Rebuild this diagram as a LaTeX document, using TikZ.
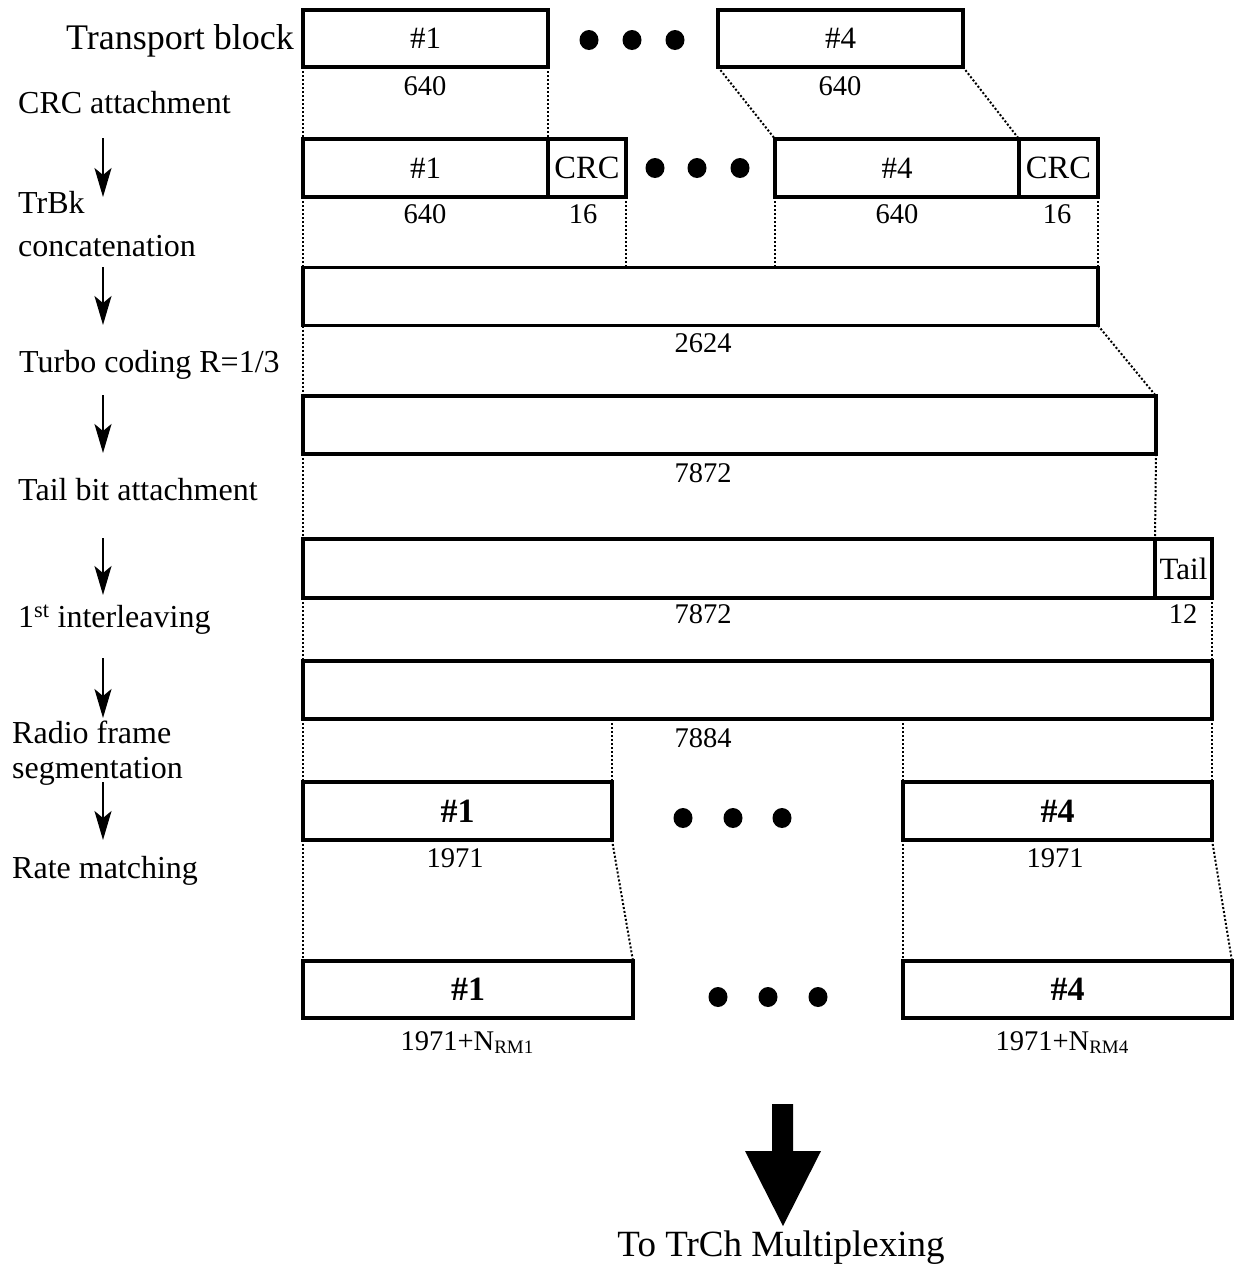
\documentclass[tikz,border=0pt]{standalone}
\usepackage{fontspec}
\setmainfont{Liberation Serif}
\usetikzlibrary{arrows.meta}
\newcommand\fLab{\fontsize{32}{36}\selectfont}
\newcommand\fTB{\fontsize{36}{40}\selectfont}
\newcommand\fNum{\fontsize{28.5}{30}\selectfont}
\newcommand\fBx{\fontsize{31}{34}\selectfont}
\newcommand\fCrc{\fontsize{32.5}{34}\selectfont}
\newcommand\fBld{\fontsize{34}{36}\selectfont\bfseries}
\newcommand\fBig{\fontsize{37}{40}\selectfont}
\newcommand\fSub{\fontsize{19}{20}\selectfont}
\begin{document}
\begin{tikzpicture}[x=1pt,y=-1pt,
  blk/.style={draw, line width=3.1pt, inner sep=0pt, outer sep=0pt, font=\fBx},
  lab/.style={inner sep=0pt, anchor=base west, font=\fLab},
  num/.style={inner sep=0pt, anchor=base, font=\fNum},
  conn/.style={line width=2pt, dash pattern=on 2pt off 2pt},
  step arrow/.style={line width=2.2pt, -{Stealth[length=29pt,width=17pt,inset=7pt]}},
  dotmark/.style={fill=black}
]
\useasboundingbox (0,0) rectangle (1235,1270);

% ---------- left labels ----------
\node[inner sep=0pt, anchor=base east, font=\fTB] (lTB) at (294,49) {Transport block};
\node[lab] (lCRC) at (18,113) {CRC attachment};
\node[lab] (lTr1) at (18,213) {TrBk};
\node[lab] (lTr2) at (18,256) {concatenation};
\node[lab] (lTur) at (19,372) {Turbo coding R=1/3};
\node[lab] (lTail) at (18,500) {Tail bit attachment};
\node[lab] (lInt) at (18,627) {1\textsuperscript{st} interleaving};
\node[lab] (lRad1) at (12,743) {Radio frame};
\node[lab] (lRad2) at (12,778) {segmentation};
\node[lab] (lRate) at (12,878) {Rate matching};

% ---------- left arrows ----------
\coordinate (a1s) at (103,138); \coordinate (a1e) at (103,197);
\coordinate (a2s) at (103,267); \coordinate (a2e) at (103,325);
\coordinate (a3s) at (103,395); \coordinate (a3e) at (103,453);
\coordinate (a4s) at (103,538); \coordinate (a4e) at (103,595);
\coordinate (a5s) at (103,658); \coordinate (a5e) at (103,718);
\coordinate (a6s) at (103,782); \coordinate (a6e) at (103,840);
\foreach \i in {1,...,6} \draw[step arrow] (a\i s) -- (a\i e);

% ---------- row 1 ----------
\node[blk, minimum width=245pt, minimum height=57pt] (r1a) at (425.5,38.5) {\#1};
\node[blk, minimum width=245pt, minimum height=57pt] (r1b) at (840.5,38.5) {\#4};
\fill[dotmark] (589,40) ellipse [x radius=9.5pt, y radius=10pt];
\fill[dotmark] (632,40) ellipse [x radius=9.5pt, y radius=10pt];
\fill[dotmark] (675,40) ellipse [x radius=9.5pt, y radius=10pt];
\node[num] (n1a) at (425,95) {640};
\node[num] (n1b) at (840,95) {640};

% ---------- row 2 ----------
\node[blk, minimum width=245pt, minimum height=58pt] (r2a) at (425.5,168) {\#1};
\node[blk, minimum width=78pt, minimum height=58pt, font=\fCrc] (r2b) at (587,168) {CRC};
\node[blk, minimum width=244pt, minimum height=58pt] (r2c) at (897,168) {\#4};
\node[blk, minimum width=79pt, minimum height=58pt, font=\fCrc] (r2d) at (1058.5,168) {CRC};
\fill[dotmark] (655,168) ellipse [x radius=9.5pt, y radius=10pt];
\fill[dotmark] (697,168) ellipse [x radius=9.5pt, y radius=10pt];
\fill[dotmark] (740,168) ellipse [x radius=9.5pt, y radius=10pt];
\node[num] (n2a) at (425,223) {640};
\node[num] (n2b) at (583,223) {16};
\node[num] (n2c) at (897,223) {640};
\node[num] (n2d) at (1057,223) {16};

% ---------- row 3 ----------
\node[blk, minimum width=795pt, minimum height=58pt] (r3) at (700.5,296.5) {};
\node[num] (n3) at (703,352) {2624};

% ---------- row 4 ----------
\node[blk, minimum width=853pt, minimum height=58pt] (r4) at (729.5,425) {};
\node[num] (n4) at (703,482) {7872};

% ---------- row 5 ----------
\node[blk, minimum width=852pt, minimum height=59pt] (r5a) at (729,568.5) {};
\node[blk, minimum width=57pt, minimum height=59pt] (r5b) at (1183.5,568.5) {Tail};
\node[num] (n5a) at (703,623) {7872};
\node[num] (n5b) at (1183,623) {12};

% ---------- row 6 ----------
\node[blk, minimum width=909pt, minimum height=58pt] (r6) at (757.5,690) {};
\node[num] (n6) at (703,747) {7884};

% ---------- row 7 ----------
\node[blk, minimum width=309pt, minimum height=58pt, font=\fBld] (r7a) at (457.5,811) {\#1};
\node[blk, minimum width=309pt, minimum height=58pt, font=\fBld] (r7b) at (1057.5,811) {\#4};
\fill[dotmark] (683,818) ellipse [x radius=9.5pt, y radius=10pt];
\fill[dotmark] (733,818) ellipse [x radius=9.5pt, y radius=10pt];
\fill[dotmark] (782,818) ellipse [x radius=9.5pt, y radius=10pt];
\node[num] (n7a) at (455,867) {1971};
\node[num] (n7b) at (1055,867) {1971};

% ---------- row 8 ----------
\node[blk, minimum width=330pt, minimum height=57pt, font=\fBld] (r8a) at (468,989.5) {\#1};
\node[blk, minimum width=329pt, minimum height=57pt, font=\fBld] (r8b) at (1067.5,989.5) {\#4};
\fill[dotmark] (718,997) ellipse [x radius=9.5pt, y radius=10pt];
\fill[dotmark] (768,997) ellipse [x radius=9.5pt, y radius=10pt];
\fill[dotmark] (818,997) ellipse [x radius=9.5pt, y radius=10pt];
\node[num] (n8a) at (467,1050) {1971+N\raisebox{-0.12em}{\fSub RM1}};
\node[num] (n8b) at (1062,1050) {1971+N\raisebox{-0.12em}{\fSub RM4}};

% ---------- dotted connectors ----------
\draw[conn] (r1a.south west) -- (r2a.north west);
\draw[conn] (r1a.south east) -- (r2a.north east);
\draw[conn] (r1b.south west) -- (r2c.north west);
\draw[conn] (r1b.south east) -- (r2c.north east);

\draw[conn] (r2a.south west) -- (r3.north west);
\draw[conn] (r2b.south east) -- (r2b.south east |- r3.north);
\draw[conn] (r2c.south west) -- (r2c.south west |- r3.north);
\draw[conn] (r2d.south east) -- (r3.north east);

\draw[conn] (r3.south west) -- (r4.north west);
\draw[conn] (r3.south east) -- (r4.north east);

\draw[conn] (r4.south west) -- (r5a.north west);
\draw[conn] (r4.south east) -- (r5a.north east);

\draw[conn] (r5a.south west) -- (r6.north west);
\draw[conn] (r5b.south east) -- (r6.north east);

\draw[conn] (r6.south west) -- (r7a.north west);
\draw[conn] (r7a.north east |- r6.south) -- (r7a.north east);
\draw[conn] (r7b.north west |- r6.south) -- (r7b.north west);
\draw[conn] (r6.south east) -- (r7b.north east);

\draw[conn] (r7a.south west) -- (r8a.north west);
\draw[conn] (r7a.south east) -- (r8a.north east);
\draw[conn] (r7b.south west) -- (r8b.north west);
\draw[conn] (r7b.south east) -- (r8b.north east);

% ---------- big output arrow ----------
\fill (772,1104) -- (793,1104) -- (793,1151) -- (821,1151) -- (783,1226)
      -- (745,1151) -- (772,1151) -- cycle;
\node[inner sep=0pt, anchor=base, font=\fBig] (out) at (781,1256) {To TrCh Multiplexing};
\end{tikzpicture}
\end{document}
